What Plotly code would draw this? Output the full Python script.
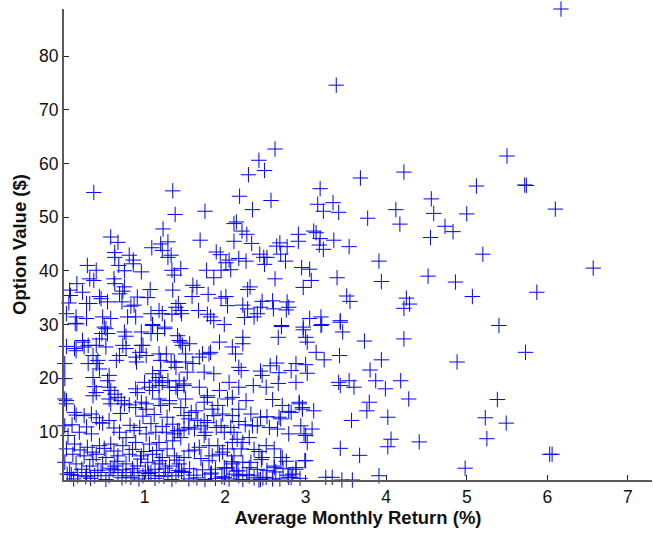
import plotly.graph_objects as go

# Average monthly return (%) and option value ($) per firm
avg_return = [
    # sparse upper / right part of the cloud
    6.17, 3.38, 2.62, 2.42, 2.49, 2.29, 3.68, 4.22, 5.50,
    4.56, 5.12, 5.72, 5.74, 4.59, 5.00, 6.10, 4.73, 4.83, 4.55, 5.20, 6.57, 4.52, 4.86, 5.07, 5.87,
    5.40, 5.73, 4.88, 5.38, 5.23, 5.49, 5.25, 6.03, 6.06, 4.98, 4.41,
    # 2 - 4 %, values 30 - 55
    3.18, 2.18, 2.57, 3.15, 3.34, 3.22, 3.41, 2.34, 1.75, 4.12, 3.77, 4.17, 2.14, 2.11, 2.21, 2.27,
    3.10, 3.13, 2.91, 3.18, 3.35, 2.91, 2.11, 2.33, 1.69, 2.68, 2.64, 2.77, 3.17, 3.22, 3.54, 2.69,
    1.89, 1.94, 2.43, 2.52, 2.48, 2.17, 2.05, 2.26, 2.01, 2.49, 2.75, 3.91, 2.07, 1.95, 1.77, 2.95,
    3.05, 1.86, 2.62, 3.39, 3.07, 3.94, 2.31, 2.28, 2.97, 1.79, 3.51, 3.55, 4.25, 4.29, 4.22, 1.95,
    2.01, 2.03, 2.46, 2.59, 2.22, 2.28, 2.44, 2.60, 2.77, 2.79, 2.76, 2.40, 1.78, 1.82, 1.86, 2.24,
    2.36, 3.05, 3.19, 3.20, 3.43, 2.70, 2.97, 1.99,
    # 0 - 1.7 %, values 30 - 55
    0.37, 1.35, 1.38, 0.58, 0.67, 0.63, 0.63, 0.68, 0.75, 0.81, 0.86, 0.86, 0.96, 0.29, 0.40, 0.32,
    0.37, 0.16, 0.07, 0.08, 0.23, 0.06, 0.28, 0.32, 0.44, 0.46, 0.54, 0.62, 0.63, 0.75, 0.73, 0.69,
    0.72, 0.83, 0.87, 0.91, 1.04, 1.07, 1.09, 1.20, 1.29, 1.22, 1.33, 1.29, 1.23, 1.34, 1.37, 1.45,
    1.35, 1.42, 1.39, 1.45, 1.46, 1.34, 1.22, 1.18, 1.08, 1.25, 1.10, 0.89, 0.79, 0.58, 0.48, 0.28,
    0.15, 0.03, 0.16, 0.50, 1.60, 1.65, 1.59, 1.67,
    # 0 - 1.5 %, values 15 - 30
    0.14, 0.52, 0.47, 0.75, 0.77, 0.96, 1.10, 1.25, 1.08, 1.16, 1.41, 1.45, 1.47, 0.03, 0.13, 0.23,
    0.25, 0.40, 0.52, 0.73, 0.77, 0.96, 0.94, 0.89, 0.90, 1.02, 1.18, 1.27, 1.20, 0.69, 0.65, 0.36,
    0.42, 0.30, 0.40, 0.44, 0.01, 0.01, 1.39, 1.37, 1.51, 1.53, 1.10, 1.20, 0.56, 0.54, 0.36, 1.14,
    1.22, 1.29, 1.18, 1.31, 1.00, 1.06, 1.39, 1.41, 1.49, 1.51, 0.38, 0.40, 0.36, 0.58, 0.63, 0.67,
    0.71, 0.56, 0.89, 0.91, 0.96, 1.10, 1.18, 1.31, 0.01, 0.03,
    # 0 - 1.5 %, values below 15
    0.03, 0.13, 0.25, 0.34, 0.58, 0.81, 0.89, 1.02, 1.20, 1.31, 1.45, 1.49, 0.44, 0.56, 0.01, 0.05,
    0.19, 0.34, 0.69, 0.77, 0.87, 0.94, 1.02, 1.14, 1.27, 1.41, 1.49, 1.45, 1.35, 1.18, 1.06, 0.89,
    0.73, 0.58, 0.44, 0.29, 0.13, 0.03, 0.11, 0.25, 0.40, 0.52, 0.67, 0.81, 0.96, 1.10, 1.22, 1.37,
    1.49, 0.01, 0.15, 0.32, 0.48, 0.63, 0.77, 0.91, 1.04, 1.18, 1.31, 1.43, 0.07, 0.17, 0.28, 0.38,
    0.46, 0.56, 0.67, 0.77, 0.87, 0.98, 1.08, 1.18, 1.29, 1.39, 1.49,
    # 1.5 - 3 %, values below 16
    2.59, 2.71, 2.92, 2.96, 3.10, 2.82, 2.44, 2.69, 2.17, 2.26, 2.09, 2.17, 2.34, 2.55, 2.65, 2.79,
    2.94, 3.08, 2.98, 3.02, 1.99, 2.11, 2.15, 2.22, 2.30, 2.51, 2.61, 2.46, 2.69, 2.61, 2.32, 2.88,
    3.00, 2.82, 2.44, 2.59, 2.03, 1.91, 1.80, 1.68, 1.84, 2.11, 2.22, 1.99, 2.11, 2.30, 1.74, 1.62,
    1.66, 1.78, 1.86, 1.95, 1.58, 1.74, 1.91, 2.03,
    # 3 - 4.3 %, values below 31, and 2.5 - 3.2 % mid values
    3.42, 3.94, 3.80, 3.87, 3.99, 4.18, 4.28, 3.41, 3.43, 3.54, 3.60, 3.79, 3.76, 3.57, 4.02, 4.06,
    4.02, 3.43, 3.67, 3.91, 3.25, 3.33, 3.45, 3.58, 4.22, 3.73, 3.46, 3.43, 3.19, 3.00, 3.02, 2.66,
    2.70, 2.97, 3.13, 3.23, 3.00, 2.88, 2.82, 3.02, 2.88, 2.67, 2.64, 2.56, 2.44, 2.46, 2.51, 2.35,
    2.66, 2.92, 2.96, 2.79, 2.67, 3.00, 2.99, 2.88, 2.84, 2.79, 2.61, 2.71,
    # 1.7 - 2.3 %, values below 28
    1.72, 1.82, 1.93, 2.09, 2.13, 2.22, 2.22, 2.20, 2.17, 1.86, 1.74, 2.05, 2.17, 1.78, 1.93, 2.09,
    1.84, 1.97, 1.74, 1.89, 2.07, 2.09, 2.20, 1.93, 1.80, 2.09, 2.30, 1.82, 1.99, 2.17, 2.42, 2.51,
    # 1.4 - 1.8 % and left edge extras
    1.43, 1.56, 1.51, 1.60, 1.68, 1.80, 1.43, 1.49, 1.68, 1.78, 1.64, 1.70, 1.76, 1.43, 1.37, 0.15,
    0.30, 0.23, 0.44, 0.54, 0.98, 0.56, 0.75, 1.02, 1.18, 1.33,
    # dense band of low option values
    0.12, 0.33, 0.52, 0.72, 0.93, 1.13, 1.34, 1.55, 1.65, 1.75, 1.88, 2.05, 2.22, 2.36, 2.68, 2.93,
    0.22, 0.42, 0.58, 0.73, 0.85, 1.01, 1.13, 1.26, 1.42, 1.56, 1.72, 1.88, 2.02, 2.16, 2.40, 2.52,
    2.72, 0.20, 0.35, 0.50, 0.62, 0.85, 0.99, 1.15, 1.28, 1.55, 1.62, 1.97, 2.36, 2.42, 0.10, 0.28,
    0.48, 0.62, 0.82, 1.08, 1.22, 1.35, 1.55, 2.25, 2.40, 0.15, 0.40, 0.70, 0.98, 1.12, 1.28, 1.55,
    2.32, 2.52,
    0.09, 0.27, 0.61, 0.83, 1.05, 1.24, 1.46, 1.61, 1.83, 1.96, 2.14, 2.27, 2.47, 2.63, 2.78, 0.04,
    0.36, 0.66, 0.95, 1.19, 1.40, 1.70, 2.08, 2.45, 2.76,
]

option_value = [
    88.8, 74.6, 62.7, 60.6, 58.7, 57.9, 57.3, 58.4, 61.4,
    53.4, 55.8, 56.0, 55.9, 50.7, 50.6, 51.5, 48.3, 47.3, 46.2, 43.1, 40.5, 39.0, 37.9, 35.2, 36.0,
    29.8, 24.8, 23.0, 16.0, 12.6, 11.6, 8.7, 5.8, 5.8, 3.2, 8.1,
    55.3, 53.9, 53.1, 52.4, 52.7, 51.1, 50.9, 51.4, 51.1, 51.4, 49.8, 48.7, 49.1, 48.8, 47.4, 46.8,
    47.4, 47.1, 46.8, 46.0, 45.7, 45.5, 45.5, 45.1, 45.7, 45.2, 44.6, 44.5, 44.8, 44.0, 44.5, 43.1,
    43.5, 43.0, 43.1, 42.5, 42.5, 42.3, 42.0, 41.8, 41.5, 41.2, 41.8, 41.8, 40.2, 40.1, 40.1, 40.6,
    40.3, 38.7, 38.5, 38.7, 38.2, 38.0, 37.0, 36.5, 36.9, 35.6, 35.3, 34.3, 34.9, 33.8, 33.0, 34.9,
    35.2, 33.5, 34.3, 34.4, 33.6, 32.9, 33.2, 32.9, 34.2, 33.2, 32.7, 32.0, 31.9, 31.4, 30.7, 31.3,
    31.4, 31.1, 31.4, 30.0, 30.7, 29.8, 29.5, 30.0,
    54.6, 54.9, 50.5, 46.3, 45.3, 43.4, 42.5, 41.0, 40.0, 42.9, 42.0, 41.3, 39.8, 41.0, 40.1, 38.5,
    38.2, 37.6, 36.4, 35.4, 36.0, 34.0, 33.9, 33.9, 35.2, 34.8, 34.2, 38.5, 37.6, 37.0, 36.2, 35.7,
    34.2, 33.4, 33.6, 35.1, 35.0, 36.5, 44.3, 45.0, 45.4, 43.8, 42.9, 42.5, 47.8, 40.1, 39.2, 40.4,
    36.4, 33.9, 33.2, 32.6, 32.0, 31.9, 32.0, 32.6, 32.0, 29.5, 30.0, 31.4, 31.4, 31.1, 31.4, 31.1,
    31.4, 32.0, 30.1, 29.5, 37.3, 36.9, 35.2, 32.6,
    30.2, 29.2, 28.3, 28.6, 27.8, 28.6, 29.8, 29.2, 28.3, 28.3, 27.9, 26.7, 26.1, 25.9, 25.5, 26.7,
    25.8, 26.1, 25.8, 26.1, 25.5, 26.1, 24.8, 23.9, 23.0, 24.2, 24.5, 24.5, 23.3, 24.2, 23.3, 24.2,
    23.3, 22.7, 22.7, 21.7, 22.7, 19.9, 22.0, 23.0, 23.0, 21.1, 20.8, 21.4, 20.5, 19.5, 20.1, 19.5,
    19.2, 19.5, 18.6, 18.3, 19.2, 18.3, 18.3, 17.7, 18.6, 16.1, 18.4, 17.3, 16.7, 17.7, 17.0, 16.4,
    15.8, 16.1, 18.0, 17.3, 15.5, 17.7, 16.1, 15.8, 16.1, 15.8,
    15.2, 13.6, 13.0, 13.3, 15.2, 15.0, 14.5, 14.2, 14.9, 15.2, 14.5, 13.0, 11.7, 12.1, 11.1, 9.3,
    9.9, 9.6, 9.9, 8.9, 10.2, 10.8, 9.6, 9.9, 9.9, 10.2, 10.5, 8.9, 8.3, 8.0, 7.7, 8.0,
    7.4, 7.7, 7.4, 7.1, 7.7, 6.8, 5.8, 5.5, 5.8, 5.2, 5.5, 5.8, 5.5, 5.8, 5.2, 5.5,
    5.2, 4.3, 4.0, 3.6, 4.0, 3.6, 4.0, 3.6, 4.3, 4.0, 3.6, 4.0, 2.4, 1.8, 2.4, 1.8,
    2.4, 1.8, 2.4, 1.8, 2.4, 1.8, 2.4, 1.8, 2.4, 1.8, 2.4,
    16.0, 14.9, 15.2, 14.2, 13.9, 13.6, 12.7, 12.4, 14.2, 15.8, 13.0, 11.9, 11.1, 10.8, 10.5, 9.6,
    11.1, 10.5, 9.6, 8.0, 9.9, 9.9, 8.6, 8.0, 8.9, 7.4, 6.8, 5.2, 5.2, 3.6, 4.3, 3.0,
    4.6, 1.5, 1.1, 1.2, 6.8, 7.4, 7.4, 7.1, 5.5, 5.5, 4.3, 3.3, 2.1, 1.8, 9.3, 10.5,
    12.1, 11.7, 13.0, 11.1, 13.6, 15.5, 14.9, 16.1,
    24.2, 23.4, 21.5, 19.5, 18.0, 19.5, 16.1, 19.2, 18.6, 19.5, 18.3, 15.5, 13.9, 12.1, 12.7, 8.6,
    7.2, 6.9, 5.6, 1.8, 1.5, 1.5, 1.0, 1.0, 27.3, 26.9, 28.6, 30.4, 29.8, 27.6, 26.7, 27.6,
    29.6, 29.0, 24.8, 23.4, 22.5, 22.7, 21.4, 20.9, 19.2, 21.0, 22.8, 22.3, 21.3, 20.5, 18.3, 18.6,
    19.0, 15.5, 14.5, 13.8, 12.7, 9.3, 4.6, 3.3, 2.1, 1.5, 3.3, 5.2,
    24.5, 24.8, 26.7, 25.8, 24.5, 27.6, 26.4, 21.4, 22.0, 20.8, 21.1, 19.2, 18.3, 16.7, 17.7, 16.4,
    14.2, 13.3, 12.1, 10.8, 10.8, 8.0, 6.8, 5.8, 4.6, 4.0, 3.3, 2.1, 1.5, 1.8, 1.0, 1.5,
    27.0, 26.4, 24.5, 22.7, 23.9, 24.5, 19.5, 18.9, 18.3, 16.4, 13.9, 11.1, 9.9, 10.2, 9.6, 25.1,
    26.1, 27.0, 27.3, 28.3, 26.1, 18.3, 15.2, 15.2, 20.1, 23.0,
    1.2, 1.3, 1.1, 1.4, 1.2, 1.3, 1.1, 1.2, 1.4, 1.1, 1.3, 1.2, 1.1, 1.4, 1.2, 1.3,
    3.0, 2.8, 3.2, 2.9, 3.1, 2.7, 3.0, 3.2, 2.8, 3.1, 2.9, 3.0, 3.2, 2.7, 3.0, 2.8,
    3.1, 6.6, 6.2, 6.9, 6.4, 6.7, 6.3, 6.5, 6.8, 6.4, 6.6, 6.2, 6.7, 6.3, 11.3, 10.9,
    11.6, 10.7, 11.2, 11.5, 11.0, 11.4, 10.8, 11.3, 11.1, 13.1, 12.6, 13.4, 12.9, 13.2, 12.7, 12.4,
    13.3, 12.8,
    2.0, 1.6, 2.9, 1.5, 2.2, 1.7, 2.6, 1.9, 2.3, 1.6, 2.7, 2.0, 1.4, 2.5, 1.9, 2.1,
    4.8, 4.5, 4.9, 4.6, 4.7, 5.0, 4.4, 4.8, 4.5,
]

x_ticks = [1, 2, 3, 4, 5, 6, 7]
y_ticks = [10, 20, 30, 40, 50, 60, 70, 80]

FONT = "Liberation Sans, Arial, Helvetica, sans-serif"
AXIS_GRAY = "#5a5a5a"

fig = go.Figure(
    go.Scatter(
        x=avg_return,
        y=option_value,
        mode="markers",
        cliponaxis=False,
        marker=dict(
            symbol="cross-thin",
            size=11,
            color="#0000ff",
            line=dict(width=1, color="#0000ff"),
        ),
        hoverinfo="x+y",
        showlegend=False,
    )
)

fig.update_layout(
    width=653,
    height=533,
    margin=dict(l=64, r=1, t=9, b=53),
    paper_bgcolor="white",
    plot_bgcolor="white",
    font=dict(family=FONT, size=17, color="#111111"),
)

fig.update_xaxes(
    range=[0, 7.3],
    tickvals=x_ticks,
    ticks="inside",
    ticklen=5,
    tickwidth=1,
    tickcolor="#222222",
    showline=True,
    linecolor=AXIS_GRAY,
    linewidth=2,
    showgrid=False,
    zeroline=False,
    mirror=False,
    tickfont=dict(size=17.5, family=FONT, color="#111111"),
    title=dict(
        text="<b>Average Monthly Return (%)</b>",
        font=dict(size=18.5, family=FONT, color="#111111"),
        standoff=5,
    ),
)

fig.update_yaxes(
    range=[1, 88.8],
    tickvals=y_ticks,
    ticks="inside",
    ticklen=5,
    tickwidth=1,
    tickcolor="#222222",
    showline=True,
    linecolor=AXIS_GRAY,
    linewidth=2,
    showgrid=False,
    zeroline=False,
    mirror=False,
    tickfont=dict(size=17.5, family=FONT, color="#111111"),
    title=dict(
        text="<b>Option Value ($)</b>",
        font=dict(size=18.5, family=FONT, color="#111111"),
        standoff=8,
    ),
)

fig.write_html("out.html")
